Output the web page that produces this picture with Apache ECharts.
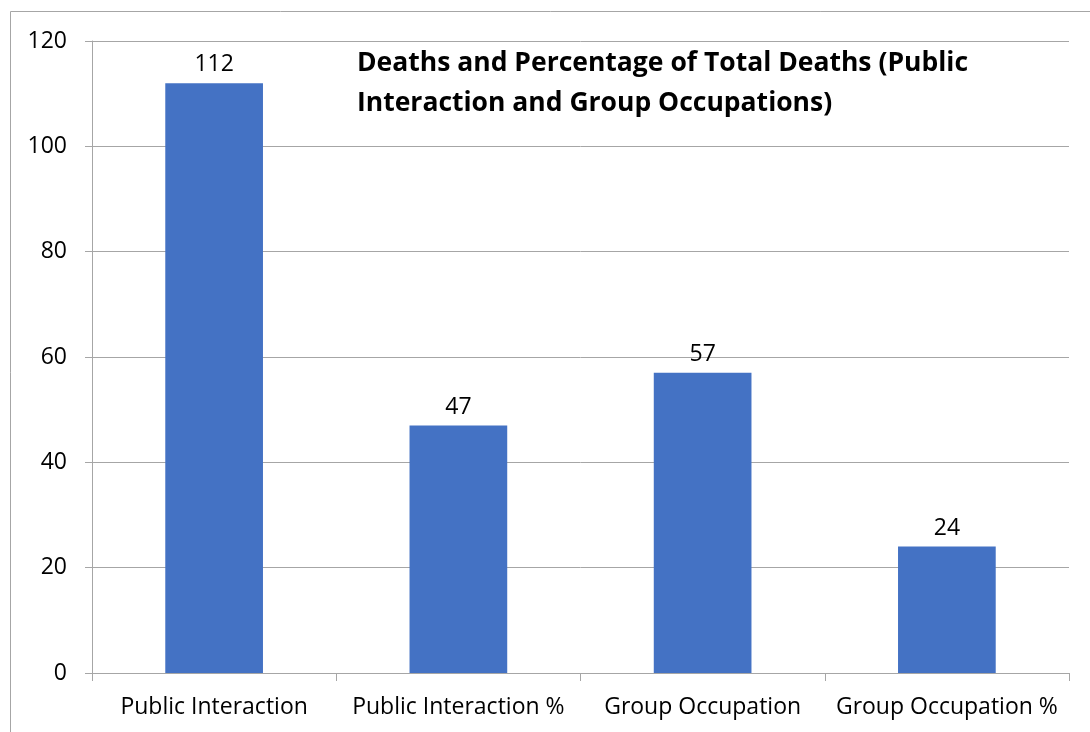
<!DOCTYPE html>
<html>
<head>
<meta charset="utf-8">
<script src="https://cdn.jsdelivr.net/npm/echarts@6/dist/echarts.min.js"></script>
<style>
  html, body { margin: 0; padding: 0; background: #fff; }
  #chart { width: 1090px; height: 732px; }
</style>
</head>
<body>
<div id="chart"></div>
<script>
const categories = ['Public Interaction', 'Public Interaction %', 'Group Occupation', 'Group Occupation %']
const deaths = [112, 47, 57, 24]
const yTicks = [0, 20, 40, 60, 80, 100, 120]

const titleText = 'Deaths and Percentage of Total Deaths (Public\nInteraction and Group Occupations)'
const font = '"Open Sans", sans-serif'

let myChart = echarts.init(document.getElementById('chart'))
let options = {
  animation: false,
  textStyle: { fontFamily: font },
  title: {
    text: titleText,
    left: 352,
    top: 38,
    textStyle: {
      fontFamily: font,
      fontSize: 26.5,
      fontWeight: 'bold',
      color: '#000',
      lineHeight: 40
    }
  },
  graphic: [
    {
      type: 'rect',
      shape: { x: 10.5, y: 11.5, width: 1200, height: 900 },
      style: { fill: 'none', stroke: '#a6a6a6', lineWidth: 1 },
      silent: true
    }
  ],
  grid: { left: 92, right: 21, top: 41, bottom: 59 },
  xAxis: {
    type: 'category',
    data: categories,
    axisLine: { lineStyle: { color: '#a6a6a6' } },
    axisTick: { show: true, length: 8, lineStyle: { color: '#a6a6a6' } },
    axisLabel: { color: '#000', fontSize: 23, margin: 23, interval: 0, fontFamily: font }
  },
  yAxis: {
    type: 'value',
    min: yTicks[0],
    max: yTicks[yTicks.length - 1],
    interval: 20,
    axisLine: { show: true, lineStyle: { color: '#a6a6a6' } },
    axisTick: { show: true, length: 7, lineStyle: { color: '#a6a6a6' } },
    axisLabel: { color: '#000', fontSize: 23, margin: 25, fontFamily: font },
    splitLine: { lineStyle: { color: '#a6a6a6' } }
  },
  series: [
    {
      type: 'bar',
      data: deaths,
      barWidth: '40%',
      itemStyle: { color: '#4472C4' },
      label: {
        show: true,
        position: 'top',
        distance: 7,
        color: '#000',
        fontSize: 23,
        fontFamily: font
      }
    }
  ]
}
myChart.setOption(options)
</script>
</body>
</html>
